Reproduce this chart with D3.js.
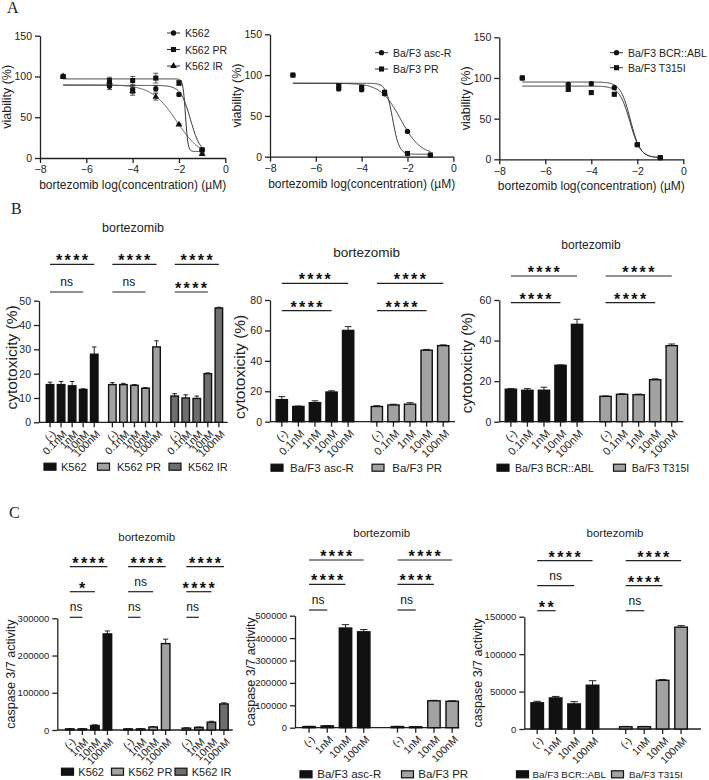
<!DOCTYPE html>
<html lang="en">
<head>
<meta charset="utf-8">
<title>bortezomib</title>
<script src="https://cdn.jsdelivr.net/npm/d3@7"></script>
<style>
  body { margin:0; background:#fff; }
  svg { font-family: "Liberation Sans", Arial, sans-serif; }
  .axis path, .axis line { stroke:#222; stroke-width:1.3; }
  .axis text { fill:#222; font-family: "Liberation Sans", Arial, sans-serif; }
</style>
</head>
<body>
<script>
// ---------- panel A : viability curves ----------
var logConc = [-7, -5, -4, -3, -2, -1];

var a1Names = ["K562", "K562 PR", "K562 IR"];
var a1Mean = [[100, 88, 84, 85, 78, 10], [100, 95, 95, 98, 92, 10], [100, 93, 82, 75, 41, 5]];
var a1Err  = [[0, 4, 5, 4, 2, 1], [0, 4, 5, 6, 3, 1], [0, 3, 5, 4, 1, 1]];
var a1Fit  = [[89, 5, -1.5, 2], [97, 8, -1.72, 8], [90, 0, -2.1, 0.8]]; // top, bottom, logIC50, hill

var a2Names = ["Ba/F3 asc-R", "Ba/F3 PR"];
var a2Mean = [[100, 83, 82, 77, 31, 2], [100, 87, 85, 79, 4, 2]];
var a2Err  = [[0, 2, 2, 2, 1, 1], [0, 2, 2, 2, 1, 1]];
var a2Fit  = [[90, 2, -2.3, 1], [90, 3, -2.65, 3]];

var a3Names = ["Ba/F3 BCR::ABL", "Ba/F3 T315I"];
var a3Mean = [[100, 92, 93, 88, 18, 2], [100, 86, 82, 80, 18, 2]];
var a3Err  = [[0, 2, 2, 2, 1, 1], [0, 2, 2, 2, 1, 1]];
var a3Fit  = [[95, 2, -2.3, 2], [90, 2, -2.32, 1.9]];

// ---------- panel B : cytotoxicity ----------
var concB = ["(-)", "0.1nM", "1nM", "10nM", "100nM"];

var b1Mean = [[15.5, 15.5, 15, 13.5, 28], [15.5, 15.5, 15.2, 14, 31], [10.8, 10, 9.8, 20, 47]];
var b1Err  = [[1, 1.3, 1.8, 0.3, 3], [0.8, 0.5, 0.3, 0.3, 2.5], [1, 1.3, 1, 0.3, 0.3]];
var b1Sig  = [[0, 0, 0, 4, "****"], [0, 1, 0, 3, "ns"], [1, 0, 0, 4, "****"], [1, 1, 0, 3, "ns"], [2, 0, 0, 4, "****"], [2, 1, 0, 3, "****"]]; // group,row,from,to,label

var b2Mean = [[14.5, 10, 12.5, 19.5, 60], [10, 11, 11.5, 47, 50]];
var b2Err  = [[2, 0.3, 1.2, 0.8, 2.5], [0.5, 0.5, 1, 0.5, 0.5]];
var b2Sig  = [[0, 0, 0, 4, "****"], [0, 1, 0, 3, "****"], [1, 0, 0, 4, "****"], [1, 1, 0, 3, "****"]];

var b3Mean = [[16, 15.5, 15.5, 27.8, 48], [12.5, 13.5, 13.3, 20.7, 37.5]];
var b3Err  = [[0.3, 0.8, 1.5, 0.2, 2.5], [0.2, 0.3, 0.3, 0.4, 0.8]];
var b3Sig  = b2Sig;

// ---------- panel C : caspase 3/7 ----------
var concC = ["(-)", "1nM", "10nM", "100nM"];

var c1Mean = [[3000, 3000, 12000, 258000], [3000, 3000, 8000, 232000], [5000, 7000, 21000, 70000]];
var c1Err  = [[500, 500, 2000, 8000], [500, 500, 1000, 12000], [1000, 1000, 2500, 3000]];
var c1Sig  = [[0, 0, 0, 3, "****"], [0, 1, 0, 2, "*"], [0, 2, 0, 1, "ns"],
              [1, 0, 0, 3, "****"], [1, 1, 0, 2, "ns"], [1, 2, 0, 1, "ns"],
              [2, 0, 0, 3, "****"], [2, 1, 0, 2, "****"], [2, 2, 0, 1, "ns"]];

var c2Mean = [[5000, 8000, 445000, 428000], [5000, 4000, 120000, 118000]];
var c2Err  = [[1000, 1500, 15000, 10000], [1000, 800, 2000, 2000]];
var c2Sig  = [[0, 0, 0, 3, "****"], [0, 1, 0, 2, "****"], [0, 2, 0, 1, "ns"],
              [1, 0, 0, 3, "****"], [1, 1, 0, 2, "****"], [1, 2, 0, 1, "ns"]];

var c3Mean = [[35000, 41500, 33500, 58500], [3000, 3000, 65000, 136000]];
var c3Err  = [[2000, 2000, 3000, 6000], [500, 500, 1000, 2000]];
var c3Sig  = [[0, 0, 0, 3, "****"], [0, 1, 0, 2, "ns"], [0, 2, 0, 1, "**"],
              [1, 0, 0, 3, "****"], [1, 1, 0, 2, "****"], [1, 2, 0, 1, "ns"]];

var k562Names = ["K562", "K562 PR", "K562 IR"];
var bafNames1 = ["Ba/F3 asc-R", "Ba/F3 PR"];
var bafNames2 = ["Ba/F3 BCR::ABL", "Ba/F3 T315I"];

var col3 = ["#111111", "#a2a2a2", "#6e6e6e"];
var col2 = ["#111111", "#a2a2a2"];

var svg = d3.select("body").append("svg").attr("width", 709).attr("height", 780);
svg.append("rect").attr("width", 709).attr("height", 780).attr("fill", "#fff");

// panel letters
svg.selectAll(".letter")
  .data([["A", 7, 13], ["B", 11, 214], ["C", 9, 518]])
  .enter().append("text")
  .attr("x", d => d[1]).attr("y", d => d[2])
  .style("font-family", "'Liberation Serif', serif").style("font-size", "16px").attr("fill", "#222")
  .text(d => d[0]);

function fit4(p, x) { return p[1] + (p[0] - p[1]) / (1 + Math.pow(10, (x - p[2]) * p[3])); }

function curvePanel(lay, names, means, errs, fits) {
  var x = d3.scaleLinear().domain([-8, 0]).range([lay.x0, lay.x1]);
  var y = d3.scaleLinear().domain([0, 150]).range([lay.y0, lay.y1]);
  var g = svg.append("g");
  var shapes = [d3.symbolCircle, d3.symbolSquare, d3.symbolTriangle];
  var sizes = [22, 26, 20];

  g.append("g").attr("class", "axis").attr("transform", "translate(" + lay.x0 + ",0)")
    .call(d3.axisLeft(y).tickValues([0, 50, 100, 150]).tickSize(5).tickSizeOuter(0))
    .selectAll("text").style("font-size", "10.5px");
  g.append("g").attr("class", "axis").attr("transform", "translate(0," + lay.y0 + ")")
    .call(d3.axisBottom(x).tickValues([-8, -6, -4, -2, 0]).tickSize(5).tickSizeOuter(0))
    .selectAll("text").style("font-size", "10.5px");

  g.append("text").attr("transform", "translate(" + (lay.x0 - 29) + "," + ((lay.y0 + lay.y1) / 2) + ") rotate(-90)")
    .attr("text-anchor", "middle").style("font-size", "12.5px").attr("fill", "#222").text("viability (%)");
  g.append("text").attr("x", (lay.x0 + lay.x1) / 2).attr("y", lay.y0 + 31)
    .attr("text-anchor", "middle").style("font-size", "12px").attr("fill", "#222")
    .text("bortezomib log(concentration) (\u00b5M)");

  var line = d3.line().x(d => x(d[0])).y(d => y(d[1]));
  fits.forEach(function (p, s) {
    var pts = d3.range(-7, -0.999, 0.02).map(v => [v, fit4(p, v)]);
    g.append("path").attr("d", line(pts)).attr("fill", "none")
      .attr("stroke", s === 2 ? "#555" : "#333").attr("stroke-width", 1);
  });

  means.forEach(function (m, s) {
    var pts = m.map((v, i) => ({ x: logConc[i], v: v, e: errs[s][i] }));
    g.selectAll(null).data(pts.filter(d => d.e > 0)).enter().append("path")
      .attr("d", d => "M" + x(d.x) + "," + y(d.v - d.e) + "V" + y(d.v + d.e)
        + "M" + (x(d.x) - 2.5) + "," + y(d.v + d.e) + "H" + (x(d.x) + 2.5)
        + "M" + (x(d.x) - 2.5) + "," + y(d.v - d.e) + "H" + (x(d.x) + 2.5))
      .attr("stroke", "#333").attr("stroke-width", 0.8).attr("fill", "none");
    g.selectAll(null).data(pts).enter().append("path")
      .attr("transform", d => "translate(" + x(d.x) + "," + y(d.v) + ")")
      .attr("d", d3.symbol().type(shapes[s]).size(sizes[s])).attr("fill", "#111");
  });

  // legend
  names.forEach(function (n, s) {
    var ly = lay.legY + s * lay.legStep;
    g.append("line").attr("x1", lay.legX).attr("x2", lay.legX + 13).attr("y1", ly).attr("y2", ly)
      .attr("stroke", "#333").attr("stroke-width", 1);
    g.append("path").attr("transform", "translate(" + (lay.legX + 6.5) + "," + ly + ")")
      .attr("d", d3.symbol().type(shapes[s]).size(sizes[s])).attr("fill", "#111");
    g.append("text").attr("x", lay.legX + 18).attr("y", ly + 4).style("font-size", "10.5px")
      .attr("fill", "#222").text(n);
  });
}

curvePanel({ x0: 40, x1: 225.3, y0: 158, y1: 35.7, legX: 167, legY: 33, legStep: 16.5 }, a1Names, a1Mean, a1Err, a1Fit);
curvePanel({ x0: 270, x1: 453.3, y0: 156.7, y1: 34.3, legX: 375, legY: 52.7, legStep: 16.3 }, a2Names, a2Mean, a2Err, a2Fit);
curvePanel({ x0: 499.3, x1: 683.3, y0: 159.3, y1: 37.3, legX: 610, legY: 52.7, legStep: 15 }, a3Names, a3Mean, a3Err, a3Fit);

function barPanel(lay, names, means, errs, sigs, colors, concs) {
  var nC = concs.length;
  var nG = means.length;
  var slot = (gi, i) => gi * (nC + lay.gap) + i;
  var x = d3.scaleLinear().domain([-lay.padL, slot(nG - 1, nC - 1) + lay.padR]).range([lay.x0, lay.x1]);
  var step = x(1) - x(0);
  var bw = step * 0.68;
  var y = d3.scaleLinear().domain([0, lay.max]).range([lay.y0, lay.y1]);
  var g = svg.append("g");

  g.append("g").attr("class", "axis").attr("transform", "translate(" + lay.x0 + ",0)")
    .call(d3.axisLeft(y).tickValues(lay.ticks).tickFormat(d3.format("d")).tickSize(5).tickSizeOuter(0))
    .selectAll("text").style("font-size", lay.yTickFont + "px");
  var xa = g.append("g").attr("class", "axis").attr("transform", "translate(0," + lay.y0 + ")");
  xa.append("line").attr("x1", lay.x0).attr("x2", lay.x1).attr("stroke", "#222").attr("stroke-width", 1.3);

  var bars = [];
  means.forEach((m, gi) => m.forEach((v, i) => bars.push({ g: gi, i: i, v: v, e: errs[gi][i] })));

  // ticks + rotated labels
  xa.selectAll(".tk").data(bars).enter().append("line")
    .attr("x1", d => x(slot(d.g, d.i))).attr("x2", d => x(slot(d.g, d.i)))
    .attr("y1", 0).attr("y2", 5).attr("stroke", "#222").attr("stroke-width", 1.3);
  xa.selectAll(".tl").data(bars).enter().append("text")
    .attr("transform", d => "translate(" + (x(slot(d.g, d.i)) + 2) + "," + 8 + ") rotate(-45)")
    .attr("text-anchor", "end").attr("dy", "0.6em").style("font-size", lay.tickFont + "px")
    .attr("fill", "#222").text(d => concs[d.i]);

  // error bars
  g.selectAll(".err").data(bars).enter().append("path")
    .attr("d", d => {
      var cx = x(slot(d.g, d.i));
      return "M" + cx + "," + y(d.v) + "V" + y(d.v + d.e) + "M" + (cx - bw * 0.3) + "," + y(d.v + d.e) + "H" + (cx + bw * 0.3);
    })
    .attr("stroke", "#222").attr("stroke-width", 1).attr("fill", "none");

  g.selectAll(".bar").data(bars).enter().append("rect")
    .attr("x", d => x(slot(d.g, d.i)) - bw / 2).attr("width", bw)
    .attr("y", d => y(d.v)).attr("height", d => lay.y0 - y(d.v))
    .attr("fill", d => colors[d.g]).attr("stroke", "#111").attr("stroke-width", 1.4);

  // significance lines
  sigs.forEach(function (s) {
    var xa0 = x(slot(s[0], s[2])), xa1 = x(slot(s[0], s[3]));
    var ly = lay.sigY[s[1]];
    g.append("line").attr("x1", xa0).attr("x2", xa1).attr("y1", ly).attr("y2", ly)
      .attr("stroke", "#222").attr("stroke-width", 1.2);
    var star = s[4].indexOf("*") >= 0;
    g.append("text").attr("x", (xa0 + xa1) / 2 + (star ? 1 : 0)).attr("y", star ? ly + 2 : ly - 6)
      .attr("text-anchor", "middle").attr("fill", "#111")
      .style("font-size", star ? "16px" : "12px").style("font-weight", star ? "bold" : "normal")
      .style("letter-spacing", star ? "2.4px" : "0")
      .text(s[4]);
  });

  // title + y label
  g.append("text").attr("x", lay.titleX).attr("y", lay.titleY + 4).attr("text-anchor", "middle")
    .style("font-size", lay.titleFont + "px").attr("fill", "#222").text("bortezomib");
  g.append("text").attr("transform", "translate(" + (lay.x0 - lay.labOff) + "," + ((lay.y0 + lay.y1) / 2 + lay.labDy) + ") rotate(-90)")
    .attr("text-anchor", "middle").style("font-size", lay.labFont + "px").attr("fill", "#222").text(lay.yLabel);

  // legend
  names.forEach(function (n, s) {
    g.append("rect").attr("x", lay.leg[s][0]).attr("y", lay.legY - 3.5).attr("width", 12).attr("height", 7)
      .attr("fill", colors[s]).attr("stroke", "#111").attr("stroke-width", 1.2);
    g.append("text").attr("x", lay.leg[s][1]).attr("y", lay.legY + 4).style("font-size", lay.legFont + "px")
      .attr("fill", "#222").text(n);
  });
}

barPanel({ x0: 39, x1: 227.7, y0: 422.3, y1: 300.7, max: 50, ticks: [0, 10, 20, 30, 40, 50], gap: 0.64, padL: 1, padR: 0.8,
  sigY: [264.3, 292], titleX: 133, titleY: 228, titleFont: 12.5, labOff: 22, labDy: -4, labFont: 15.5, yLabel: "cytotoxicity (%)",
  legY: 466.7, leg: [[44, 61], [97.5, 117], [169, 188]], legFont: 11, tickFont: 10.5, yTickFont: 10.5 },
  k562Names, b1Mean, b1Err, b1Sig, col3, concB);

barPanel({ x0: 270, x1: 455, y0: 421.7, y1: 300, max: 80, ticks: [0, 20, 40, 60, 80], gap: 0.73, padL: 0.71, padR: 0.71,
  sigY: [283.3, 310.7], titleX: 366.7, titleY: 252.7, titleFont: 13.5, labOff: 25, labDy: 6, labFont: 15.5, yLabel: "cytotoxicity (%)",
  legY: 467.7, leg: [[271, 290], [372, 392.3]], legFont: 11.5, tickFont: 11, yTickFont: 10.5 },
  bafNames1, b2Mean, b2Err, b2Sig, col2, concB);

barPanel({ x0: 499.3, x1: 683.3, y0: 421.7, y1: 300, max: 60, ticks: [0, 20, 40, 60], gap: 0.72, padL: 0.7, padR: 0.7,
  sigY: [276, 302.7], titleX: 591, titleY: 245, titleFont: 12, labOff: 27, labDy: 2, labFont: 15, yLabel: "cytotoxicity (%)",
  legY: 467.7, leg: [[497, 515], [613.5, 631.7]], legFont: 10.5, tickFont: 11, yTickFont: 10.5 },
  bafNames2, b3Mean, b3Err, b3Sig, col2, concB);

barPanel({ x0: 57.3, x1: 232.7, y0: 730, y1: 618.3, max: 300000, ticks: [0, 100000, 200000, 300000], gap: 0.65, padL: 1, padR: 0.7,
  sigY: [566.7, 591.7, 617.3], titleX: 146.7, titleY: 536.7, titleFont: 11.5, labOff: 42, labDy: 0, labFont: 12.5, yLabel: "caspase 3/7 activity",
  legY: 771.7, leg: [[61.5, 78.3], [111.5, 128.3], [175, 191.7]], legFont: 11, tickFont: 10.5, yTickFont: 9.5 },
  k562Names, c1Mean, c1Err, c1Sig, col3, concC);

barPanel({ x0: 295, x1: 459.3, y0: 727.7, y1: 615.7, max: 500000, ticks: [0, 100000, 200000, 300000, 400000, 500000], gap: 0.85, padL: 0.77, padR: 0.39,
  sigY: [560, 584.3, 610], titleX: 381.7, titleY: 533.3, titleFont: 11.5, labOff: 40, labDy: 0, labFont: 12.5, yLabel: "caspase 3/7 activity",
  legY: 774.3, leg: [[300, 317.3], [401.5, 418.3]], legFont: 11.5, tickFont: 10.5, yTickFont: 9.5 },
  bafNames1, c2Mean, c2Err, c2Sig, col2, concC);

barPanel({ x0: 524.3, x1: 701, y0: 729, y1: 616.7, max: 150000, ticks: [0, 50000, 100000, 150000], gap: 0.8, padL: 0.7, padR: 1.08,
  sigY: [560.7, 585.7, 610.7], titleX: 615, titleY: 533.3, titleFont: 11.5, labOff: 42.6, labDy: 0, labFont: 12.5, yLabel: "caspase 3/7 activity",
  legY: 774.3, leg: [[516.5, 532.5], [611.5, 629]], legFont: 9.8, tickFont: 10.5, yTickFont: 9.5 },
  bafNames2, c3Mean, c3Err, c3Sig, col2, concC);
</script>
</body>
</html>
